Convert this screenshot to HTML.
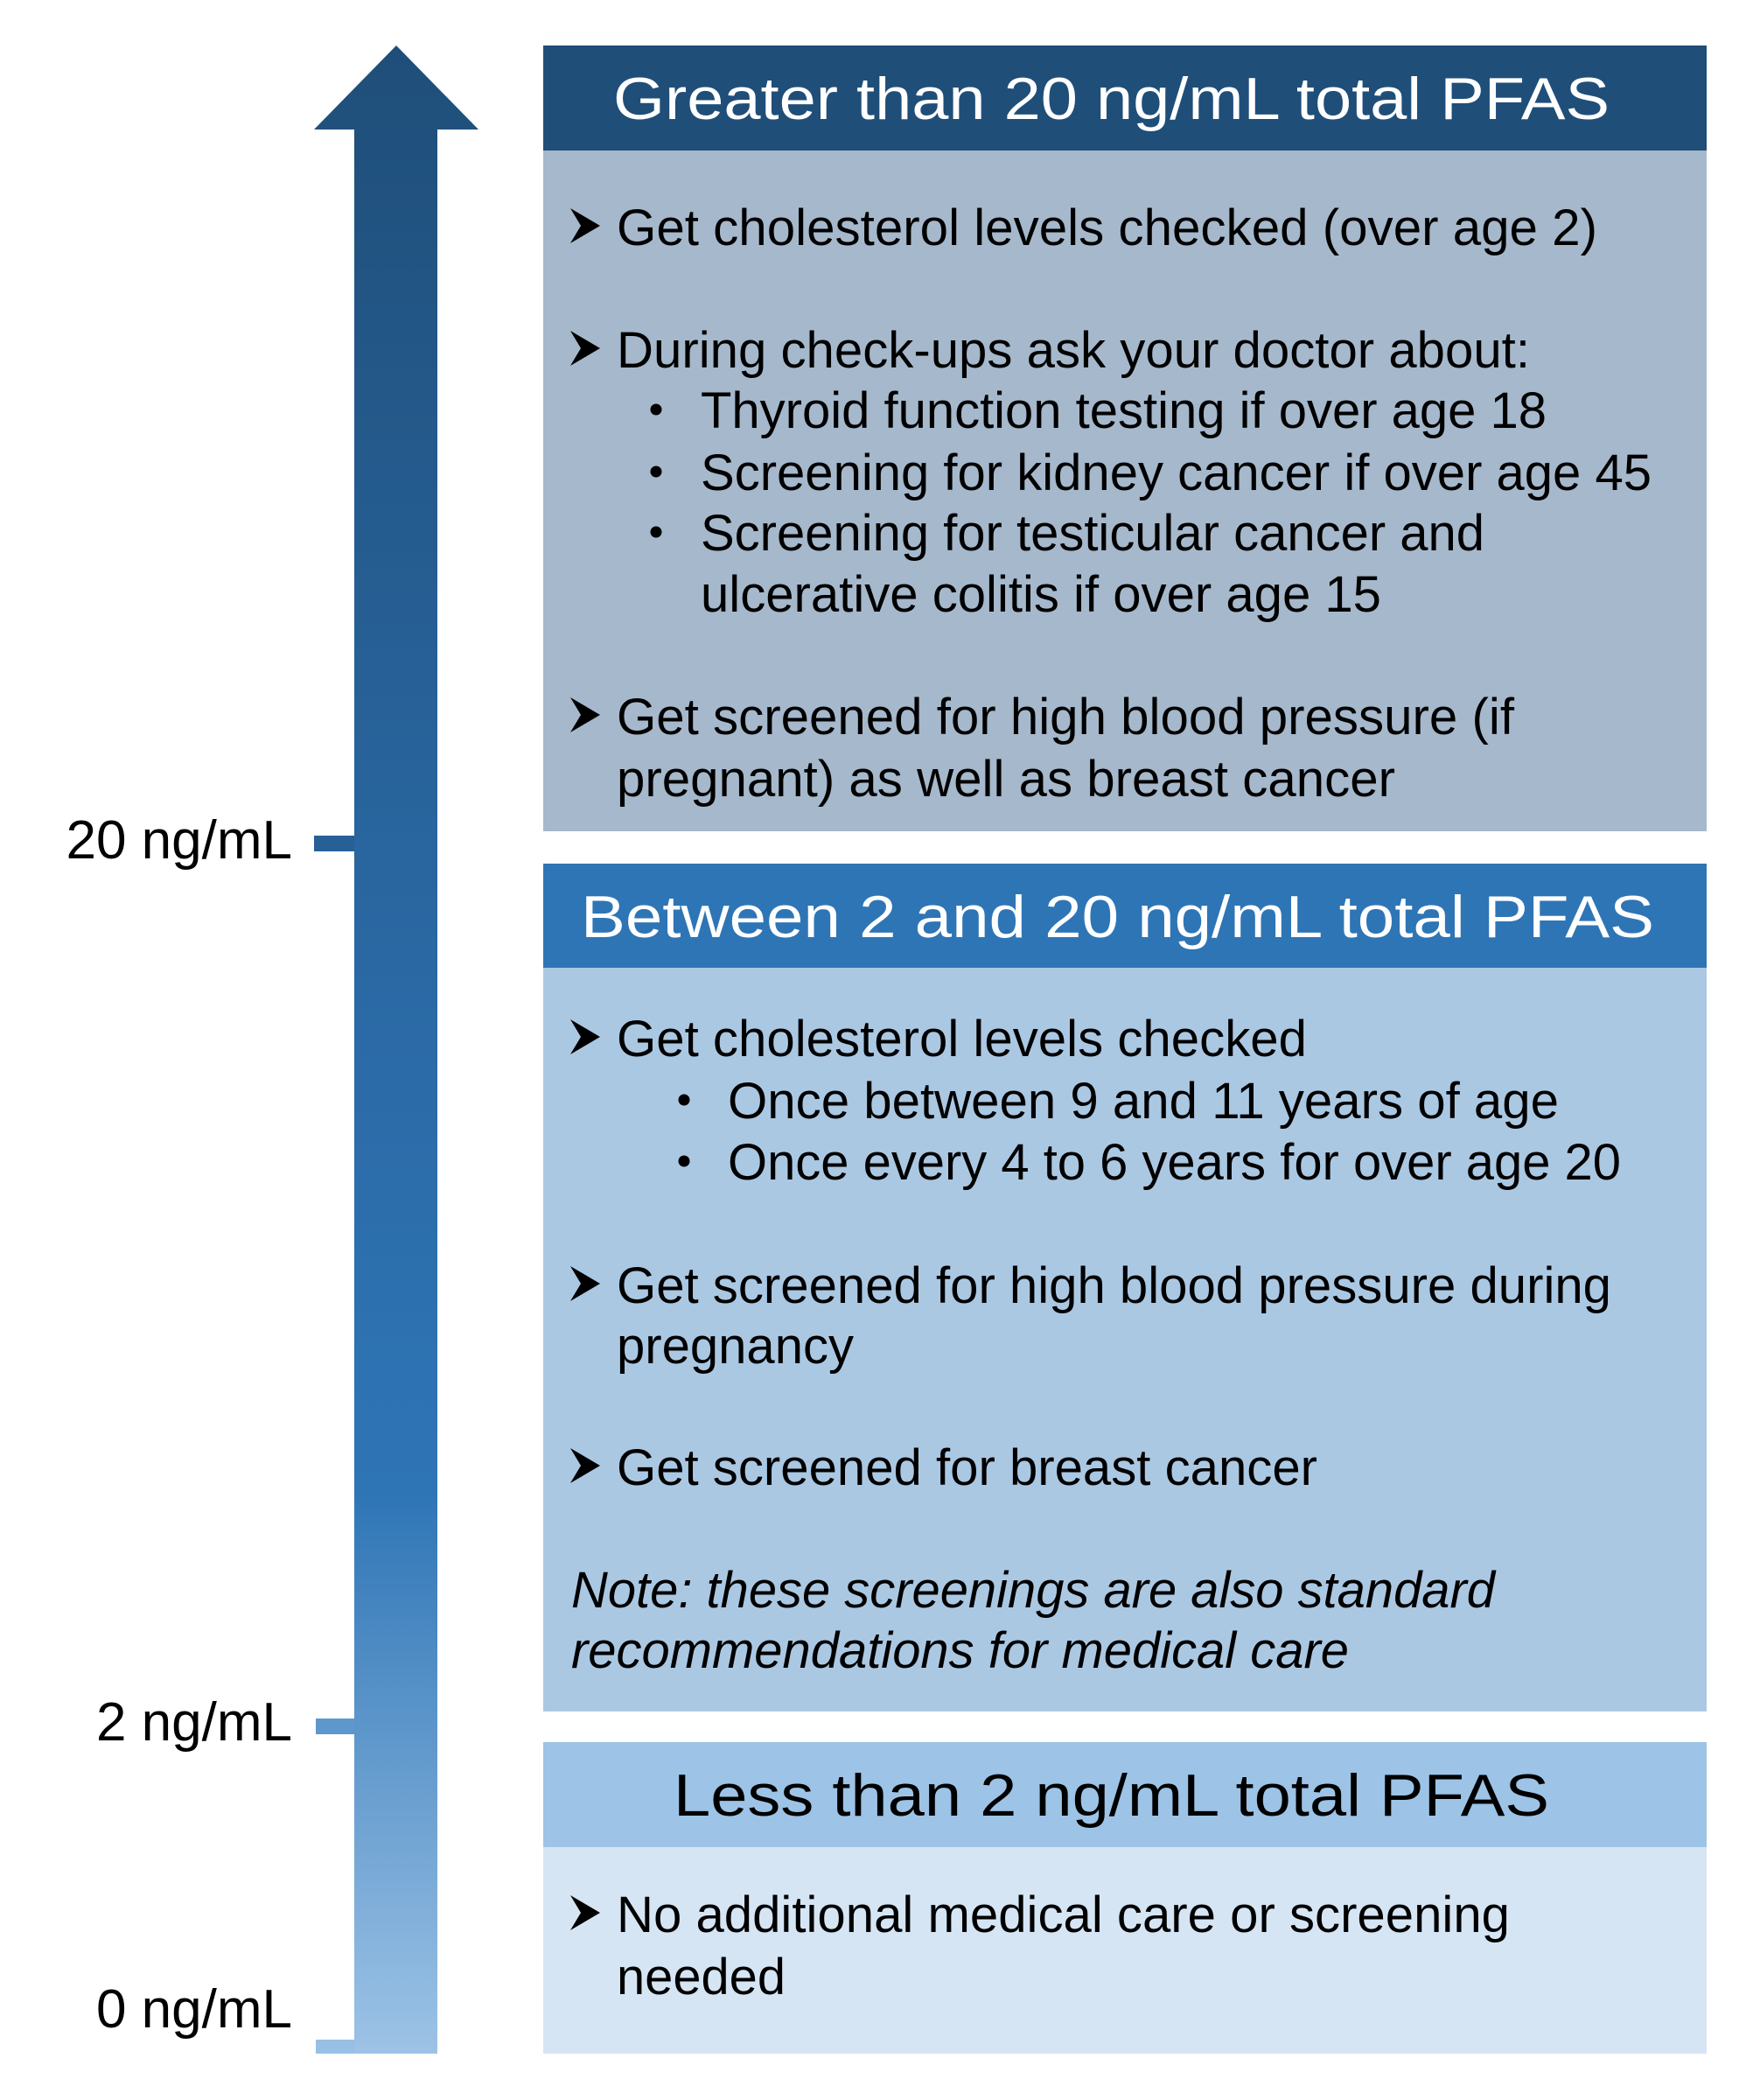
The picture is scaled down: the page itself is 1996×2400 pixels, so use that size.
<!DOCTYPE html>
<html><head><meta charset="utf-8"><style>html,body{margin:0;padding:0;background:#fff}svg{display:block}</style></head>
<body>
<svg width="1996" height="2400" viewBox="0 0 1996 2400" xmlns="http://www.w3.org/2000/svg" font-family="Liberation Sans, Arial, sans-serif">
<defs>
<linearGradient id="ag" x1="0" y1="0" x2="0" y2="1">
<stop offset="0" stop-color="#1f4e79"/>
<stop offset="0.45" stop-color="#2a68a3"/>
<stop offset="0.72" stop-color="#2e75b6"/>
<stop offset="1" stop-color="#9dc3e6"/>
</linearGradient>
<path id="mk" d="M0,0 L34,20 L0,40 L12,20 Z M0,0 L34,20 L12,20 Z" />
</defs>
<!-- arrow -->
<polygon points="453,52 547,148 500,148 500,2347 405,2347 405,148 359,148" fill="url(#ag)"/>
<rect x="359" y="955" width="46" height="18" fill="#275f97"/>
<rect x="361" y="1964" width="44" height="18" fill="#5e97cc"/>
<rect x="361" y="2331" width="44" height="16" fill="#98c0e4"/>
<g font-size="62" fill="#000" text-anchor="end">
<text x="334" y="981">20 ng/mL</text>
<text x="334" y="1989">2 ng/mL</text>
<text x="334" y="2317">0 ng/mL</text>
</g>
<!-- boxes -->
<rect x="621" y="52" width="1330" height="120" fill="#1f4e79"/>
<rect x="621" y="172" width="1330" height="778" fill="#a6b8cb"/>
<rect x="621" y="987" width="1330" height="119" fill="#2e75b6"/>
<rect x="621" y="1106" width="1330" height="850" fill="#abc8e3"/>
<rect x="621" y="1991" width="1330" height="120" fill="#9dc3e6"/>
<rect x="621" y="2111" width="1330" height="236" fill="#d6e5f4"/>
<g font-size="68" lengthAdjust="spacingAndGlyphs">
<text x="701" y="136" fill="#fff" textLength="1139" lengthAdjust="spacingAndGlyphs">Greater than 20 ng/mL total PFAS</text>
<text x="664" y="1071" fill="#fff" textLength="1227" lengthAdjust="spacingAndGlyphs">Between 2 and 20 ng/mL total PFAS</text>
<text x="770" y="2075" fill="#000" textLength="1001" lengthAdjust="spacingAndGlyphs">Less than 2 ng/mL total PFAS</text>
</g>
<g fill="#000">
<use href="#mk" x="652" y="238"/>
<use href="#mk" x="652" y="378"/>
<use href="#mk" x="652" y="797"/>
<use href="#mk" x="652" y="1165"/>
<use href="#mk" x="652" y="1447"/>
<use href="#mk" x="652" y="1655"/>
<use href="#mk" x="652" y="2166"/>
<circle cx="750" cy="468" r="6.5"/>
<circle cx="750" cy="539" r="6.5"/>
<circle cx="750" cy="608" r="6.5"/>
<circle cx="782" cy="1257" r="6.5"/>
<circle cx="782" cy="1327" r="6.5"/>
</g>
<g font-size="58" fill="#000">
<text x="705" y="280" textLength="1121" lengthAdjust="spacingAndGlyphs">Get cholesterol levels checked (over age 2)</text>
<text x="705" y="420" textLength="1044" lengthAdjust="spacingAndGlyphs">During check-ups ask your doctor about:</text>
<text x="801" y="489" textLength="967" lengthAdjust="spacingAndGlyphs">Thyroid function testing if over age 18</text>
<text x="801" y="560" textLength="1087" lengthAdjust="spacingAndGlyphs">Screening for kidney cancer if over age 45</text>
<text x="801" y="629" textLength="896" lengthAdjust="spacingAndGlyphs">Screening for testicular cancer and</text>
<text x="801" y="699" textLength="778" lengthAdjust="spacingAndGlyphs">ulcerative colitis if over age 15</text>
<text x="705" y="839" textLength="1026" lengthAdjust="spacingAndGlyphs">Get screened for high blood pressure (if</text>
<text x="705" y="910" textLength="890" lengthAdjust="spacingAndGlyphs">pregnant) as well as breast cancer</text>
<text x="705" y="1207" textLength="789" lengthAdjust="spacingAndGlyphs">Get cholesterol levels checked</text>
<text x="832" y="1278" textLength="950" lengthAdjust="spacingAndGlyphs">Once between 9 and 11 years of age</text>
<text x="832" y="1348" textLength="1021" lengthAdjust="spacingAndGlyphs">Once every 4 to 6 years for over age 20</text>
<text x="705" y="1489" textLength="1137" lengthAdjust="spacingAndGlyphs">Get screened for high blood pressure during</text>
<text x="705" y="1558" textLength="271" lengthAdjust="spacingAndGlyphs">pregnancy</text>
<text x="705" y="1697" textLength="801" lengthAdjust="spacingAndGlyphs">Get screened for breast cancer</text>
<text x="653" y="1837" font-style="italic" textLength="1056" lengthAdjust="spacingAndGlyphs">Note: these screenings are also standard</text>
<text x="653" y="1906" font-style="italic" textLength="889" lengthAdjust="spacingAndGlyphs">recommendations for medical care</text>
<text x="705" y="2208" textLength="1021" lengthAdjust="spacingAndGlyphs">No additional medical care or screening</text>
<text x="705" y="2279" textLength="193" lengthAdjust="spacingAndGlyphs">needed</text>
</g>
</svg>
</body></html>
